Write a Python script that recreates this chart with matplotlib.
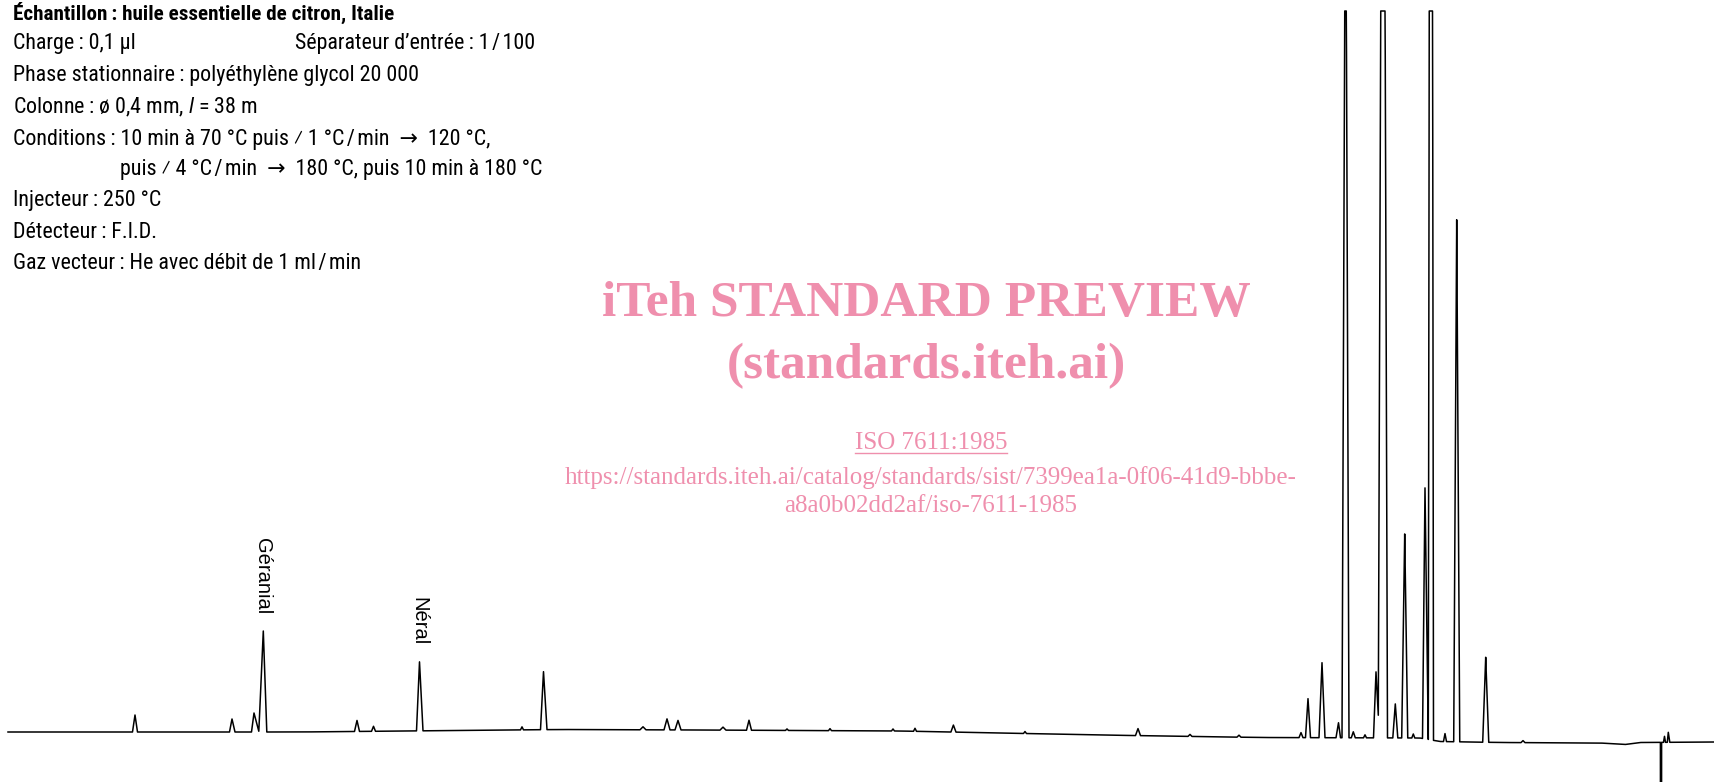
import numpy as np
import matplotlib
matplotlib.use('Agg')
from matplotlib import pyplot as plt
from matplotlib.lines import Line2D

plt.rcParams['font.family'] = ['Roboto Condensed', 'DejaVu Sans']
plt.rcParams['mathtext.fontset'] = 'custom'
plt.rcParams['mathtext.rm'] = 'Roboto Condensed'
plt.rcParams['mathtext.it'] = 'Roboto Condensed:italic'

# peaks: position, height above baseline, half width at base (left / right)
peak_pos = [135, 232, 254, 263.3, 357, 373.5, 419.5, 522, 543.5, 643, 667, 678, 723, 749,
            787, 830, 893, 915, 953.4, 1025, 1138, 1190, 1239,
            1301, 1308, 1322, 1338.5, 1345.5, 1353.3, 1365, 1376, 1382.9, 1395.3, 1404.7,
            1413.3, 1425, 1430.9, 1445, 1456.7, 1485.7, 1523, 1661, 1664.5, 1668.3]
peak_height = [17, 13, 19, 101, 11, 5, 69, 3, 58, 3, 11, 9.5, 3, 10,
               1.5, 2, 2, 3, 7, 2, 7, 2, 2,
               5, 39, 75, 15, 960, 6, 3, 66, 1393, 34, 204,
               4, 251, 2100, 8, 522, 85, 2, -900, 6, 10]
peak_wl = [2.5, 2.5, 2.5, 4.5, 2.5, 2, 3, 1.5, 3, 3, 3, 3, 3, 2.5,
           1.5, 1.5, 1.5, 1.5, 2.5, 1.5, 2.5, 2, 2,
           2, 2.5, 3, 2.5, 3.5, 2, 1.5, 2.5, 4.6, 2.5, 3,
           1.5, 2.5, 2.6, 1.5, 3, 3, 2, 0.6, 1, 1]
peak_wr = [2.5, 3, 5, 3.5, 2.5, 2, 3.5, 1.5, 3.5, 3, 3, 3, 3, 2.5,
           1.5, 1.5, 1.5, 1.5, 2.5, 1.5, 2.5, 2, 2,
           2, 2.5, 3, 2, 3.5, 2, 1.5, 3.5, 4.6, 2.5, 3,
           1.5, 3.3, 2.6, 1.5, 3, 3, 2, 0.6, 1, 1.5]

# baseline drift of the recorder
base_pos = [8, 300, 560, 700, 900, 1100, 1260, 1420, 1440, 1500, 1600, 1625, 1640, 1715]
base_level = [50, 50, 52.5, 52, 51, 47, 44.5, 44, 40.5, 39.5, 39, 37.5, 39.5, 40]

pen_max = 771   # full scale of the recorder, overloaded peaks come out flat

labels = ['Géranial', 'Néral']
label_pos = [262.5, 419]
label_top = [244, 185]

ts = '\u2009'  # thin space before the colon (french setting)
hs = '\u200a'  # hair space round the slash
title = 'Échantillon' + ts + ': huile essentielle de citron, Italie'
info_lines = ['Charge' + ts + ': 0,1 µl',
              'Phase stationnaire' + ts + ': polyéthylène glycol 20 000',
              'Colonne' + ts + ': ø 0,4 mm, $\\it{l}$ = 38 m',
              'Conditions' + ts + ': 10 min à 70 °C puis ⁄ 1 °C' + hs + '/' + hs + 'min  →  120 °C,',
              'puis ⁄ 4 °C' + hs + '/' + hs + 'min  →  180 °C, puis 10 min à 180 °C',
              'Injecteur' + ts + ': 250 °C',
              'Détecteur' + ts + ': F.I.D.',
              'Gaz vecteur' + ts + ': He avec débit de 1 ml' + hs + '/' + hs + 'min']
info_x = [13, 13, 13, 13, 120, 13, 13, 13]
split_in = 'Séparateur d\u2019entrée' + ts + ': 1' + hs + '/' + hs + '100'

W, H = 1715, 782
fig = plt.figure(figsize=(W/100, H/100), dpi=100)
ax = fig.add_axes([0, 0, 1, 1])
ax.set_xlim(0, W)
ax.set_ylim(0, H)
ax.axis('off')

# build trace
pos = np.array(peak_pos, float)
hgt = np.array(peak_height, float)
wl = np.array(peak_wl, float)
wr = np.array(peak_wr, float)
x = np.arange(8, 1715.01, 0.25)
x = np.union1d(x, np.r_[pos, pos-wl, pos+wr])
y = np.interp(x, base_pos, base_level)
for k in range(len(pos)):
    d = x - pos[k]
    w = np.where(d < 0, wl[k], wr[k])
    y = y + hgt[k]*np.clip(1 - np.abs(d)/w, 0, None)
y = np.minimum(y, pen_max)
ax.plot(x, y, color='k', lw=1.1)

for k in range(len(labels)):
    ax.text(label_pos[k], label_top[k], labels[k], rotation=270, ha='center', va='top',
            fontsize=14.5, color='k', family=['Liberation Sans', 'DejaVu Sans'])

# header block
fs = 15.8
def fy(py):
    return 1 - py/H
fig.text(13/W, fy(13), title, fontsize=15.2, fontweight='bold', va='center')
yy = [44, 76, 107, 139, 170, 201, 232, 263]
for k in range(len(info_lines)):
    fig.text(info_x[k]/W, fy(yy[k]), info_lines[k], fontsize=fs, va='center')
fig.text(295/W, fy(44), split_in, fontsize=fs, va='center')

# watermark
pink = '#EF8FAD'
wm = ['Liberation Serif', 'DejaVu Serif']
fig.text(926/W, fy(304), 'iTeh STANDARD PREVIEW', fontsize=37, fontweight='bold',
         color=pink, ha='center', va='center', family=wm)
fig.text(926/W, fy(366), '(standards.iteh.ai)', fontsize=37, fontweight='bold',
         color=pink, ha='center', va='center', family=wm)
iso = fig.text(931/W, fy(443), 'ISO 7611:1985', fontsize=18, color=pink,
               ha='center', va='center', family=wm)
fig.text(931/W, fy(478), 'https://standards.iteh.ai/catalog/standards/sist/7399ea1a-0f06-41d9-bbbe-',
         fontsize=18, color=pink, ha='center', va='center', family=wm)
fig.text(931/W, fy(506), 'a8a0b02dd2af/iso-7611-1985', fontsize=18, color=pink,
         ha='center', va='center', family=wm)

fig.canvas.draw()
bb = iso.get_window_extent()
fig.add_artist(Line2D([bb.x0/W, bb.x1/W], [(bb.y0+1)/H, (bb.y0+1)/H], color=pink, lw=1.0,
                      transform=fig.transFigure))

fig.savefig('out.png', dpi=100)
